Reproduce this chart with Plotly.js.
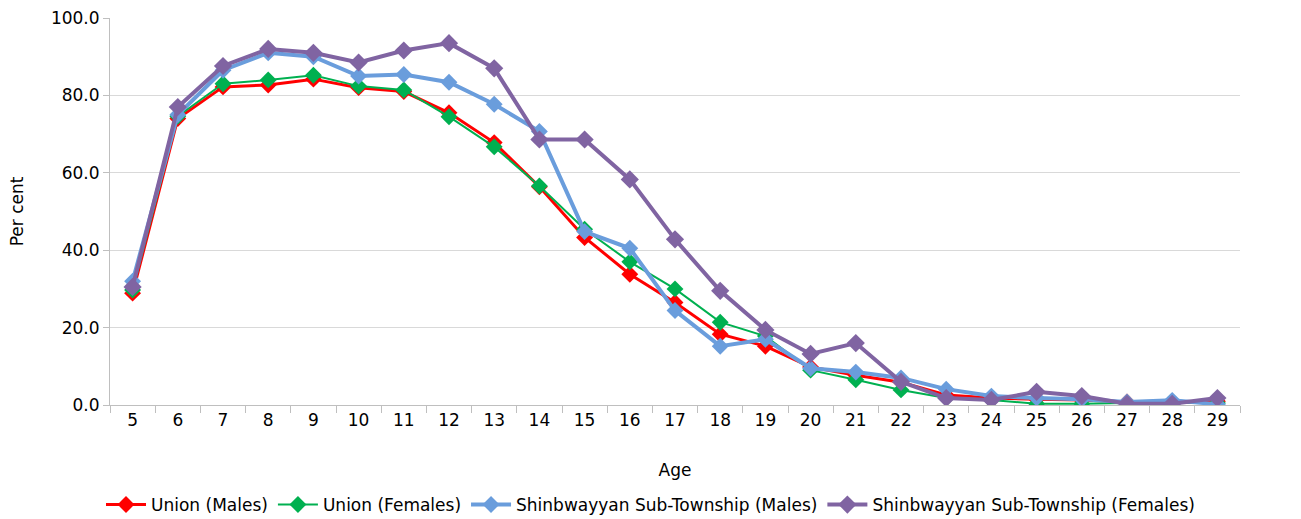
<!DOCTYPE html>
<html>
<head>
<meta charset="utf-8">
<script src="https://cdn.plot.ly/plotly-3.0.1.min.js"></script>
<style>html,body{margin:0;padding:0;background:#fff;}#chart{width:1301px;height:519px;}</style>
</head>
<body>
<div id="chart"></div>
<script>
const ages = ["5","6","7","8","9","10","11","12","13","14","15","16","17","18","19","20","21","22","23","24","25","26","27","28","29"];
const unionMales = [28.9,74.0,82.2,82.7,84.2,82.0,81.0,75.5,67.8,56.4,43.3,33.8,26.5,18.3,15.2,9.8,7.7,5.9,2.6,1.8,1.5,1.3,0.8,0.8,1.0];
const unionFemales = [29.7,74.6,83.0,84.0,85.2,82.4,81.4,74.5,66.7,56.6,45.4,37.0,30.0,21.4,17.8,9.0,6.5,3.9,1.8,1.3,0.3,0.3,0.5,0.5,0.5];
const shinMales = [32.0,75.0,86.5,91.0,90.0,85.0,85.4,83.4,77.7,70.7,44.8,40.5,24.4,15.2,17.0,9.5,8.5,7.0,4.1,2.3,1.8,1.5,0.8,1.2,0.2];
const shinFemales = [30.5,77.0,87.6,92.0,91.0,88.5,91.6,93.5,87.0,68.6,68.6,58.3,42.8,29.5,19.4,13.2,16.0,6.0,1.8,1.3,3.4,2.3,0.3,0.3,1.8];
const seriesNames = ["Union (Males)","Union (Females)","Shinbwayyan Sub-Township (Males)","Shinbwayyan Sub-Township (Females)"];

const styles = [
  {color:"#FF0000", width:3, size:13},
  {color:"#00B050", width:2, size:13},
  {color:"#6A9DDC", width:4, size:13},
  {color:"#8064A2", width:4, size:14}
];
const allData = [unionMales, unionFemales, shinMales, shinFemales];
const traces = allData.map((vals,i)=>({
  type:"scatter", mode:"lines+markers", x:ages, y:vals, name:seriesNames[i],
  line:{color:styles[i].color, width:styles[i].width},
  marker:{symbol:"diamond", size:styles[i].size, color:styles[i].color}
}));

const layout = {
  width:1301, height:519,
  margin:{l:110, r:61, t:18, b:114},
  paper_bgcolor:"#fff", plot_bgcolor:"#fff",
  font:{family:"DejaVu Sans, sans-serif", size:17, color:"#000"},
  showlegend:true,
  legend:{orientation:"h", x:0.5, xref:"container", xanchor:"center", yref:"container", y:0.027, yanchor:"middle",
    font:{size:17, color:"#000"}, itemwidth:40, tracegroupgap:0},
  xaxis:{type:"category", title:{text:"Age", font:{size:17, color:"#000"}, standoff:34},
    showline:true, linecolor:"#bfbfbf", linewidth:1, ticks:"outside", tickson:"boundaries", ticklen:7, tickcolor:"#bfbfbf",
    showgrid:false, tickfont:{size:17, color:"#000"}, range:[-0.5,24.5], fixedrange:true},
  yaxis:{title:{text:"Per cent", font:{size:17, color:"#000"}, standoff:22},
    range:[0,100], dtick:20, tickformat:".1f", showline:true, linecolor:"#bfbfbf", linewidth:1,
    ticks:"outside", ticklen:6, tickcolor:"#bfbfbf", gridcolor:"#d9d9d9", gridwidth:1,
    zeroline:false, tickfont:{size:17, color:"#000"}, fixedrange:true}
};
Plotly.newPlot("chart", traces, layout, {displayModeBar:false, staticPlot:true});
</script>
</body>
</html>
